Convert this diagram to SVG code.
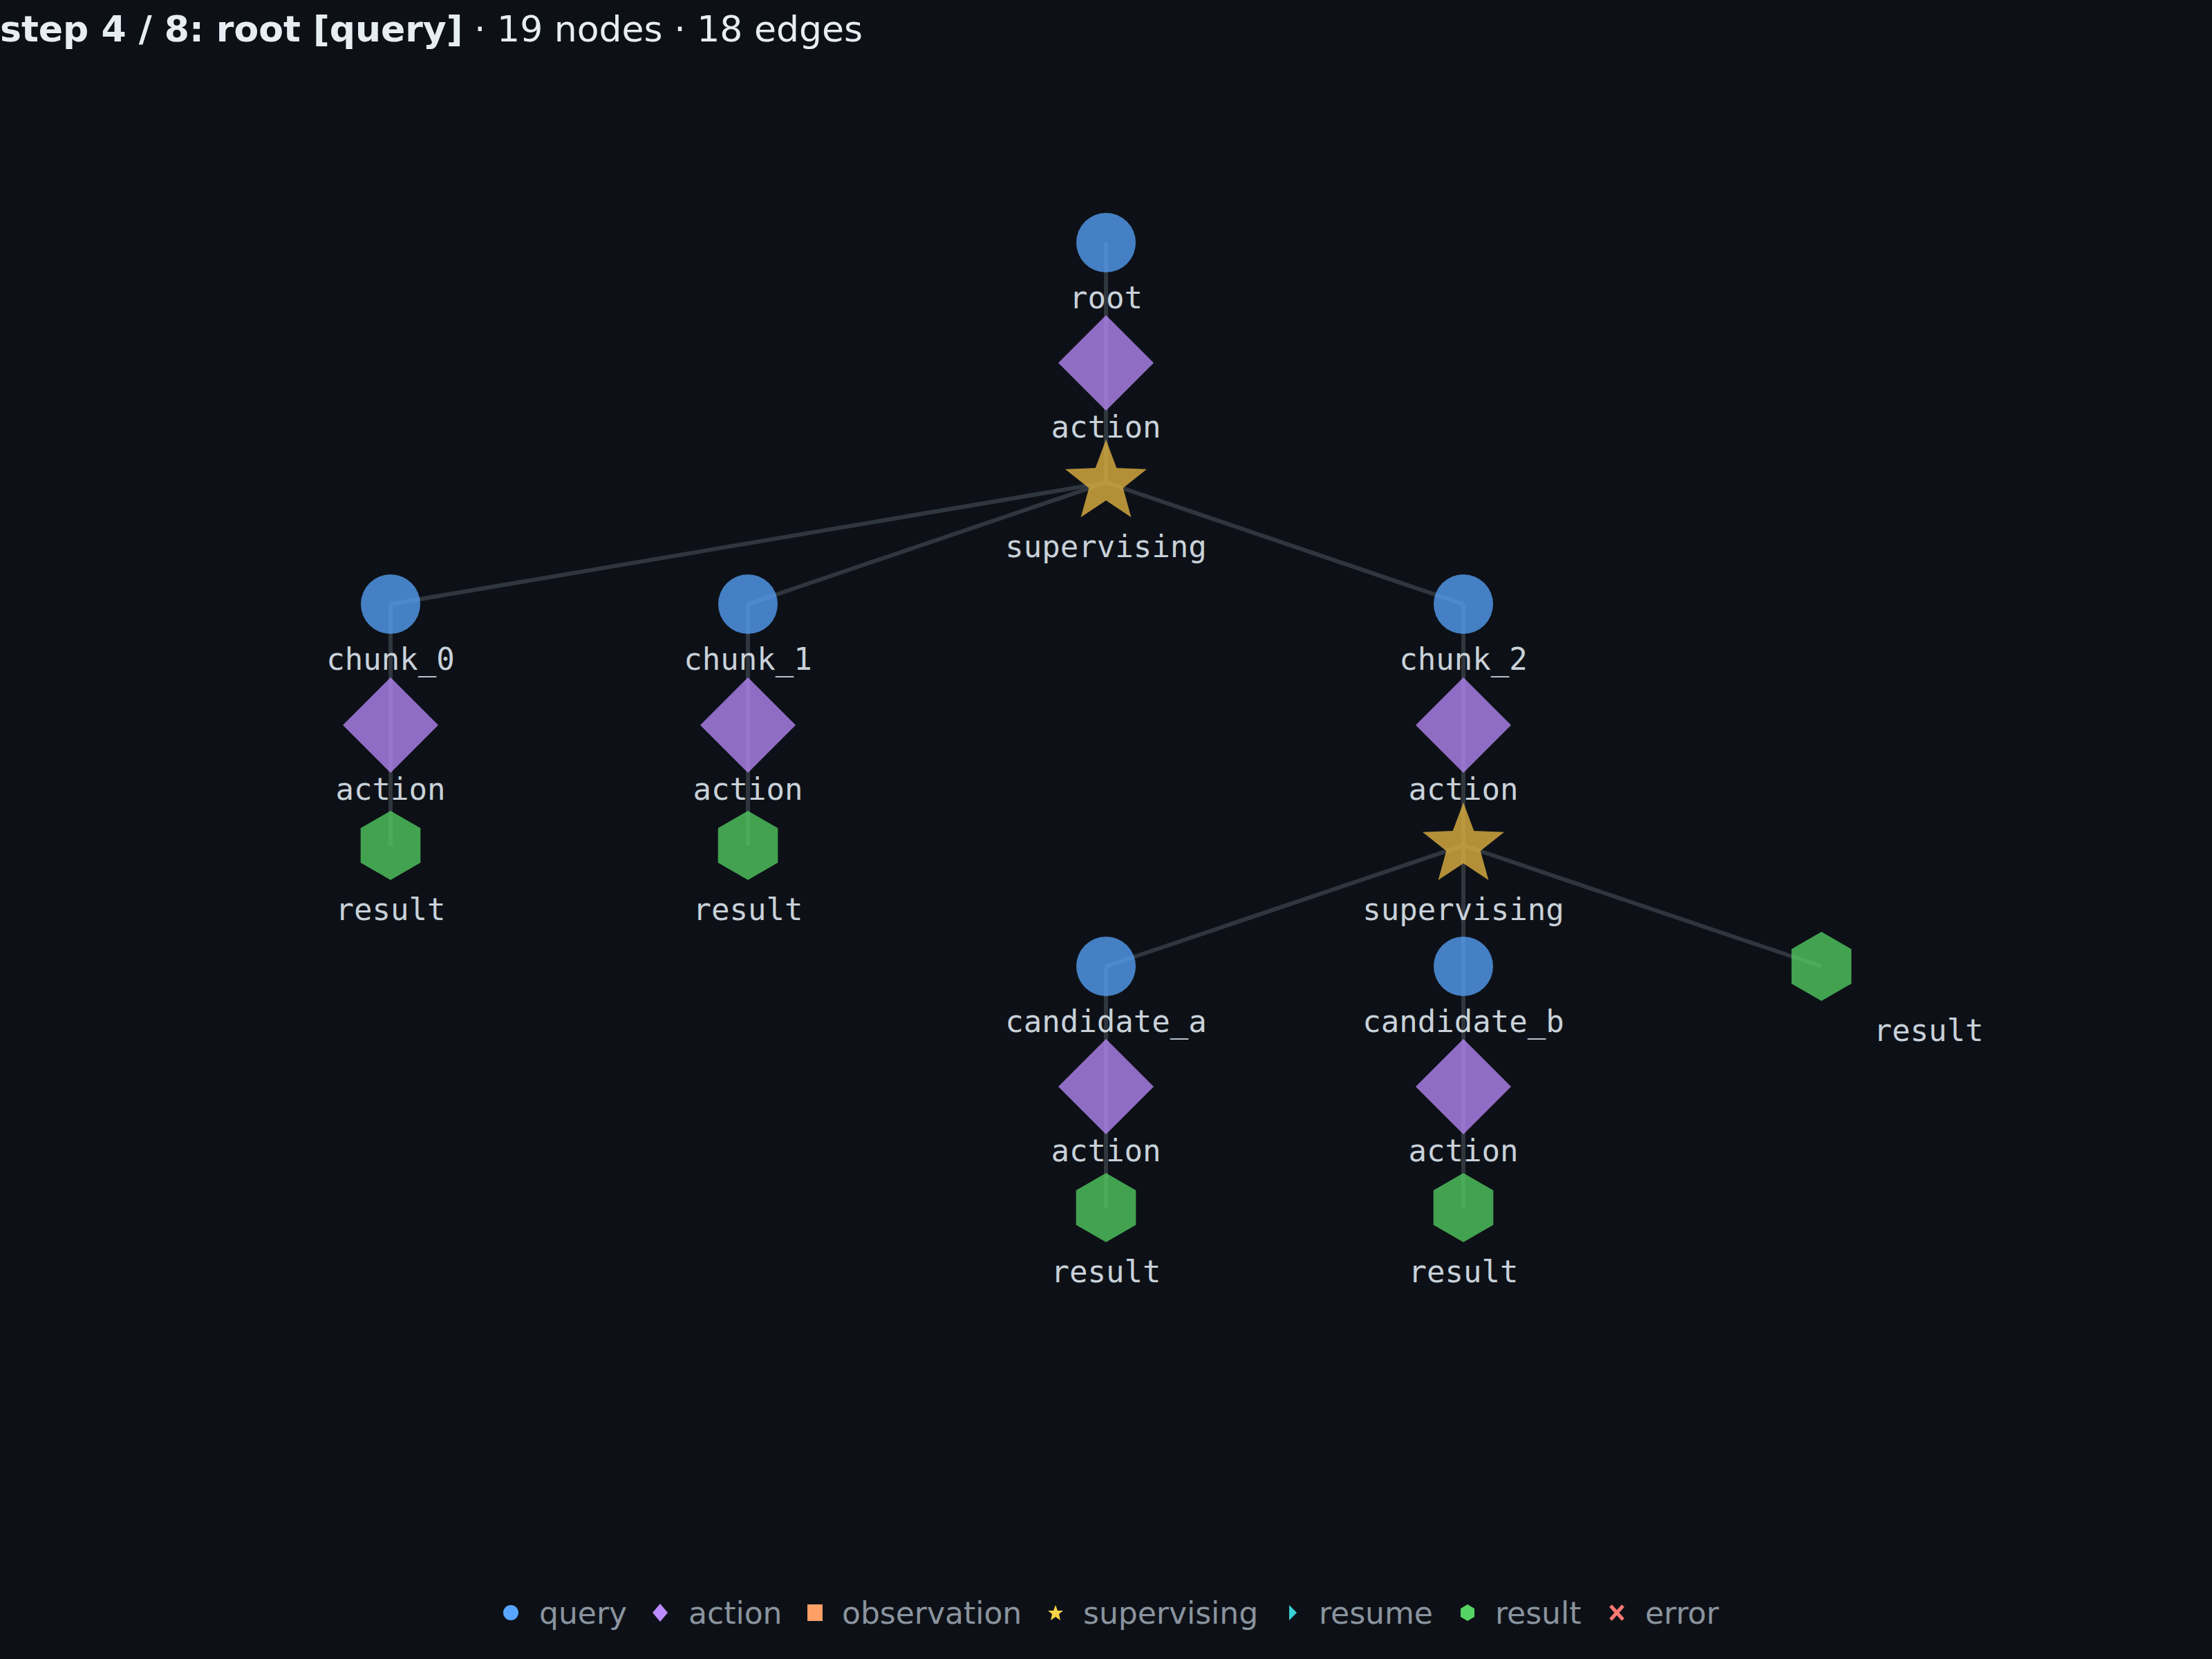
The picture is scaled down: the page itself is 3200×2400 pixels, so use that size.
<svg xmlns="http://www.w3.org/2000/svg" xmlns:xlink="http://www.w3.org/1999/xlink" width="3200" height="2400" viewBox="0 0 3200 2400">
<style>
.lbl{font-family:"DejaVu Sans Mono","Liberation Mono",monospace;font-size:44px;fill:#c9d1d9;text-anchor:middle}
.e{stroke:#30363d;stroke-width:6;fill:none}
.q{fill:#58a6ff;opacity:.75}.a{fill:#bc8cff;opacity:.75}.s{fill:#e3b341;opacity:.78}.r{fill:#56d364;opacity:.75}
.leg{font-family:"DejaVu Sans","Liberation Sans",sans-serif;font-size:44px;fill:#8b949e}
</style>
<defs>
<circle id="Q" r="43"/>
<polygon id="A" points="0,-69 69,0 0,69 -69,0"/>
<polygon id="S" points="0,-62 15.3,-21 59,-19.2 24.7,8 36.4,50.2 0,26 -36.4,50.2 -24.7,8 -59,-19.2 -15.3,-21"/>
<polygon id="R" points="0,-50 43.3,-25 43.3,25 0,50 -43.3,25 -43.3,-25"/>
</defs>
<rect width="3200" height="2400" fill="#0d1117"/>
<text x="0" y="60" font-family="DejaVu Sans,Liberation Sans,sans-serif" font-size="52" fill="#e6edf3"><tspan font-weight="bold">step 4 / 8: root [query]</tspan> · 19 nodes · 18 edges</text>
<g id="edges">
<path class="e" d="M1600,351 L1600,525 L1600,698"/>
<path class="e" d="M1600,698 L565,874 M1600,698 L1082,874 M1600,698 L2117,874"/>
<path class="e" d="M565,874 V1223 M1082,874 V1223 M2117,874 V1223"/>
<path class="e" d="M2117,1223 L1600,1398 M2117,1223 V1398 M2117,1223 L2635,1398"/>
<path class="e" d="M1600,1398 V1747 M2117,1398 V1747"/>
</g>
<g id="n_root"><use href="#Q" x="1600" y="351" class="q"/><text class="lbl" x="1600" y="446">root</text></g>
<g id="n_action0"><use href="#A" x="1600" y="525" class="a"/><text class="lbl" x="1600" y="633">action</text></g>
<g id="n_sup0"><use href="#S" x="1600" y="698" class="s"/><text class="lbl" x="1600" y="806">supervising</text></g>
<g id="n_chunk0"><use href="#Q" x="565" y="874" class="q"/><text class="lbl" x="565" y="969">chunk_0</text></g>
<g id="n_chunk1"><use href="#Q" x="1082" y="874" class="q"/><text class="lbl" x="1082" y="969">chunk_1</text></g>
<g id="n_chunk2"><use href="#Q" x="2117" y="874" class="q"/><text class="lbl" x="2117" y="969">chunk_2</text></g>
<g id="n_action1"><use href="#A" x="565" y="1049" class="a"/><text class="lbl" x="565" y="1157">action</text></g>
<g id="n_action2"><use href="#A" x="1082" y="1049" class="a"/><text class="lbl" x="1082" y="1157">action</text></g>
<g id="n_action3"><use href="#A" x="2117" y="1049" class="a"/><text class="lbl" x="2117" y="1157">action</text></g>
<g id="n_result0"><use href="#R" x="565" y="1223" class="r"/><text class="lbl" x="565" y="1331">result</text></g>
<g id="n_result1"><use href="#R" x="1082" y="1223" class="r"/><text class="lbl" x="1082" y="1331">result</text></g>
<g id="n_sup1"><use href="#S" x="2117" y="1223" class="s"/><text class="lbl" x="2117" y="1331">supervising</text></g>
<g id="n_cand_a"><use href="#Q" x="1600" y="1398" class="q"/><text class="lbl" x="1600" y="1493">candidate_a</text></g>
<g id="n_cand_b"><use href="#Q" x="2117" y="1398" class="q"/><text class="lbl" x="2117" y="1493">candidate_b</text></g>
<g id="n_result2"><use href="#R" x="2635" y="1398" class="r"/><text class="lbl" x="2790" y="1506">result</text></g>
<g id="n_action4"><use href="#A" x="1600" y="1572" class="a"/><text class="lbl" x="1600" y="1680">action</text></g>
<g id="n_action5"><use href="#A" x="2117" y="1572" class="a"/><text class="lbl" x="2117" y="1680">action</text></g>
<g id="n_result3"><use href="#R" x="1600" y="1747" class="r"/><text class="lbl" x="1600" y="1855">result</text></g>
<g id="n_result4"><use href="#R" x="2117" y="1747" class="r"/><text class="lbl" x="2117" y="1855">result</text></g>
<g id="legend">
<circle cx="739" cy="2333" r="11" fill="#58a6ff"/><text class="leg" x="780" y="2349">query</text>
<polygon points="955,2320 966,2333 955,2346 944,2333" fill="#bc8cff"/><text class="leg" x="996" y="2349">action</text>
<rect x="1168" y="2321" width="22" height="24" fill="#ffa066"/><text class="leg" x="1218" y="2349">observation</text>
<polygon points="1527,2322 1530,2330 1538,2330 1532,2335 1534,2344 1527,2339 1520,2344 1522,2335 1516,2330 1524,2330" fill="#f7d348"/><text class="leg" x="1567" y="2349">supervising</text>
<polygon points="1865,2322 1876,2333 1865,2344" fill="#39d0d8"/><text class="leg" x="1908" y="2349">resume</text>
<polygon points="2123,2321 2133,2327 2133,2339 2123,2345 2113,2339 2113,2327" fill="#56d364"/><text class="leg" x="2163" y="2349">result</text>
<path d="M2330,2323 L2348,2343 M2348,2323 L2330,2343" stroke="#ff7b72" stroke-width="5"/><text class="leg" x="2380" y="2349">error</text>
</g>
</svg>
